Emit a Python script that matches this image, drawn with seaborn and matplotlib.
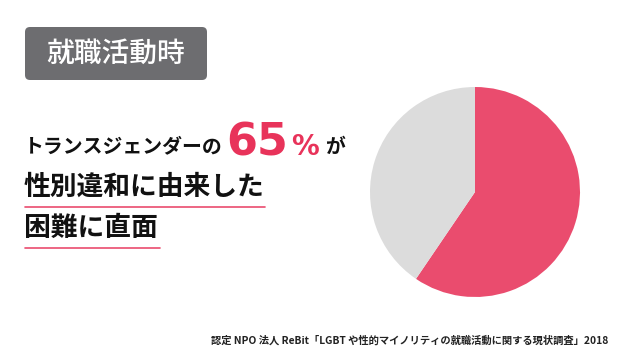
import matplotlib
matplotlib.use("Agg")
import matplotlib.pyplot as plt
import seaborn as sns
from matplotlib.patches import FancyBboxPatch

# --- data ---
slice_labels = ["性別違和に由来した困難あり", "その他"]
slice_values = [59.5, 40.5]          # wedge as drawn
headline_pct = "65"
tag_text = "就職活動時"
line1_text = "トランスジェンダーの"
line2_text = "性別違和に由来した"
line3_text = "困難に直面"
source_text = "認定 NPO 法人 ReBit「LGBT や性的マイノリティの就職活動に関する現状調査」2018"

PINK = "#EA4C6E"
RED = "#E8335A"
GREY = "#DCDCDC"
TAG = "#6D6D70"

sns.set_theme(style="white")
plt.rcParams["font.family"] = ["Noto Sans CJK JP", "DejaVu Sans"]

fig = plt.figure(figsize=(6.3, 3.54), dpi=100)
fig.patch.set_facecolor("white")

# overlay axes in pixel coordinates for the text block
bg = fig.add_axes([0, 0, 1, 1])
bg.set_xlim(0, 630)
bg.set_ylim(354, 0)
bg.axis("off")

# --- pie ---
ax = fig.add_axes([370 / 630, 1 - 297 / 354, 210 / 630, 210 / 354])
ax.pie(slice_values, colors=[PINK, GREY], startangle=90, counterclock=False,
       wedgeprops=dict(linewidth=0))
ax.set_xlim(-1, 1)
ax.set_ylim(-1, 1)
ax.set_aspect("equal")

# --- tag box ---
box = FancyBboxPatch((27, 29), 178, 49, boxstyle="round,pad=2,rounding_size=5",
                     fc=TAG, ec="none")
bg.add_patch(box)
bg.text(116, 53, tag_text, color="white", fontsize=20, weight="medium",
        ha="center", va="center")

# --- headline ---
bg.text(24, 146, line1_text, color="#111111", fontsize=14.3, weight="bold",
        ha="left", va="center")
bg.text(226, 155, headline_pct, color=RED, fontsize=32, weight="bold",
        family="DejaVu Sans", ha="left", va="baseline")
bg.text(291, 155, "%", color=RED, fontsize=20, weight="bold",
        family="DejaVu Sans", ha="left", va="baseline")
bg.text(325, 146, "が", color="#111111", fontsize=14.3, weight="bold",
        ha="left", va="center")

bg.text(24, 187, line2_text, color="#111111", fontsize=19.3, weight="bold",
        ha="left", va="center")
bg.plot([25, 265], [207, 207], color=PINK, lw=1.2)
bg.text(24, 228, line3_text, color="#111111", fontsize=19.3, weight="bold",
        ha="left", va="center")
bg.plot([25, 160], [248, 248], color=PINK, lw=1.2)

# --- source ---
bg.text(608, 340, source_text, color="#222222", fontsize=7.4, weight="bold",
        ha="right", va="center")

fig.savefig("out.png", dpi=100, facecolor="white")
